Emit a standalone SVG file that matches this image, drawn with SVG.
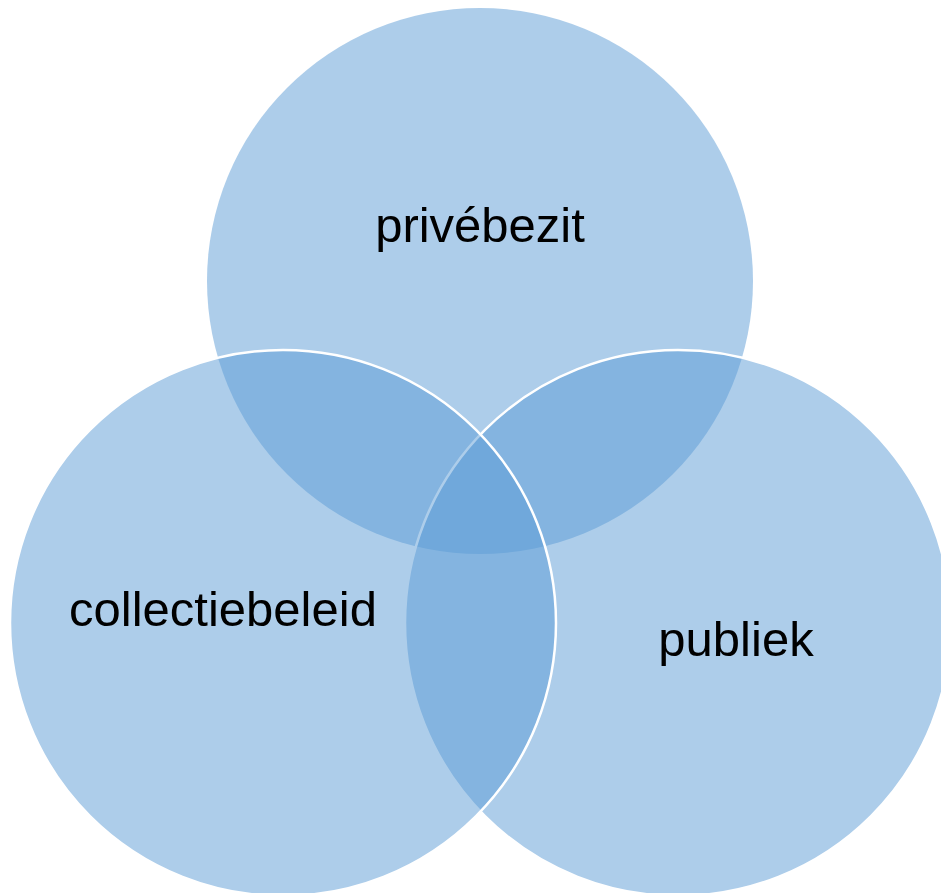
<svg xmlns="http://www.w3.org/2000/svg" width="941" height="893" viewBox="0 0 941 893">
<style>
.c{fill:#5B9BD5;fill-opacity:0.5;stroke:#ffffff;stroke-width:2.5}
.t{font-family:"Liberation Sans",Arial,sans-serif;font-size:49px;fill:#000000;text-anchor:middle}
</style>
<rect width="941" height="893" fill="#ffffff"/>
<g id="prive">
<circle cx="480" cy="281" r="273" class="c" stroke="none" style="stroke:none"/>
</g>
<g id="publiek">
<circle cx="678" cy="623" r="273" class="c"/>
</g>
<g id="collectiebeleid">
<circle cx="283" cy="623" r="273" class="c"/>
</g>
<g id="labels">
<text class="t" x="480" y="242">privébezit</text>
<text class="t" x="223" y="626">collectiebeleid</text>
<text class="t" x="736" y="656">publiek</text>
</g>
<g id="connectors"/>
</svg>
